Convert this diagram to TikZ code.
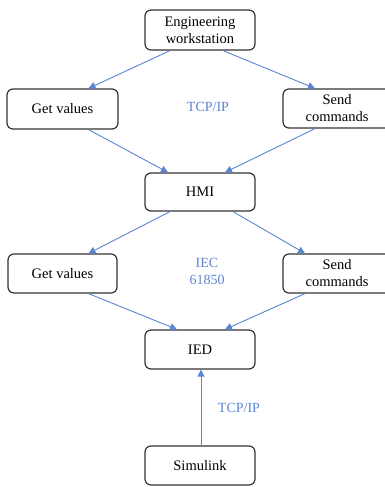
\documentclass[tikz,border=0pt]{standalone}
\usepackage{fontspec}
\setmainfont{Liberation Serif}
\usetikzlibrary{arrows.meta}
\definecolor{linkblue}{HTML}{5B84D2}
\definecolor{boxline}{HTML}{333333}
\tikzset{
  block/.style={draw=boxline, line width=1.2pt, rounded corners=6pt, fill=white,
    align=center, font=\fontsize{14.5}{17}\selectfont, inner sep=0pt},
  link/.style={draw=linkblue, line width=0.9pt, -{Triangle[length=7pt,width=7pt]}},
  proto/.style={text=linkblue, align=center, font=\fontsize{14}{17}\selectfont}
}
\begin{document}
\begin{tikzpicture}[x=1pt,y=-1pt]
\useasboundingbox (0,0) rectangle (385,487);
\begin{scope}
\clip (0,0) rectangle (385,487);
% process boxes
\node[block, minimum width=110pt, minimum height=40pt] (ews) at (200,30) {Engineering\\workstation};
\node[block, minimum width=111pt, minimum height=40pt] (gv1) at (62.5,109) {Get values};
\node[block, minimum width=108pt, minimum height=39pt] (sc1) at (337,108.5) {Send\\commands};
\node[block, minimum width=110pt, minimum height=38pt] (hmi) at (200,192) {HMI};
\node[block, minimum width=109pt, minimum height=39pt] (gv2) at (62.5,273.5) {Get values};
\node[block, minimum width=108pt, minimum height=39pt] (sc2) at (337,273.5) {Send\\commands};
\node[block, minimum width=110pt, minimum height=39pt] (ied) at (200,349.5) {IED};
\node[block, minimum width=110pt, minimum height=39pt] (sim) at (200,465.5) {Simulink};
\end{scope}
% protocol labels
\node[proto] (tcp1) at (208,107) {TCP/IP};
\node[proto] (iec) at (207,271) {IEC\\61850};
\node[proto] (tcp2) at (239,408) {TCP/IP};
% data links
\draw[link] ([xshift=-30pt]ews.south) -- ([xshift=26pt]gv1.north);
\draw[link] ([xshift=23pt]ews.south) -- ([xshift=-22pt]sc1.north);
\draw[link] ([xshift=26pt]gv1.south) -- ([xshift=-32pt]hmi.north);
\draw[link] ([xshift=-22pt]sc1.south) -- ([xshift=25pt]hmi.north);
\draw[link] ([xshift=-30pt]hmi.south) -- ([xshift=26pt]gv2.north);
\draw[link] ([xshift=33pt]hmi.south) -- ([xshift=-32pt]sc2.north);
\draw[link] ([xshift=26pt]gv2.south) -- ([xshift=-23pt]ied.north);
\draw[link] ([xshift=-32pt]sc2.south) -- ([xshift=25pt]ied.north);
\draw[link] ([xshift=1pt]sim.north) -- ([xshift=1pt]ied.south);
\end{tikzpicture}
\end{document}
